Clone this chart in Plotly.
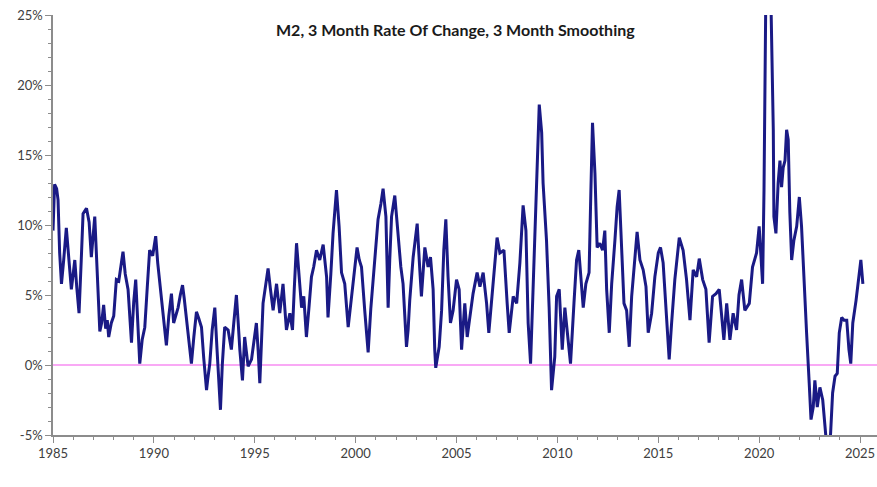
import plotly.graph_objects as go

# Decimal year of each reading
years = [
    1985.00, 1985.08, 1985.18, 1985.25, 1985.33, 1985.42, 1985.53, 1985.66, 1985.75, 1985.91,
    1986.00, 1986.08, 1986.18, 1986.29, 1986.40, 1986.49, 1986.66, 1986.79, 1986.90, 1986.99,
    1987.07, 1987.18, 1987.27, 1987.32, 1987.41, 1987.51, 1987.61, 1987.69, 1987.76, 1987.89,
    1988.01, 1988.14, 1988.26, 1988.36, 1988.47, 1988.58, 1988.72, 1988.89, 1989.00, 1989.10,
    1989.20, 1989.30, 1989.42, 1989.55, 1989.67, 1989.79, 1989.94, 1990.09, 1990.19, 1990.31,
    1990.44, 1990.62, 1990.74, 1990.87, 1990.98, 1991.08, 1991.20, 1991.31, 1991.42, 1991.50,
    1991.61, 1991.73, 1991.86, 1991.98, 1992.11, 1992.23, 1992.36, 1992.47, 1992.61, 1992.67,
    1992.77, 1992.89, 1993.02, 1993.13, 1993.22, 1993.30, 1993.39, 1993.51, 1993.68, 1993.84,
    1993.96, 1994.09, 1994.18, 1994.26, 1994.39, 1994.50, 1994.58, 1994.67, 1994.84, 1994.95,
    1995.08, 1995.17, 1995.25, 1995.41, 1995.52, 1995.66, 1995.77, 1995.91, 1996.08, 1996.24,
    1996.40, 1996.57, 1996.74, 1996.87, 1996.96, 1997.07, 1997.19, 1997.32, 1997.43, 1997.56,
    1997.68, 1997.81, 1997.92, 1998.06, 1998.22, 1998.39, 1998.56, 1998.63, 1998.77, 1998.88,
    1999.05, 1999.18, 1999.30, 1999.46, 1999.63, 1999.84, 1999.96, 2000.07, 2000.18, 2000.29,
    2000.45, 2000.62, 2000.75, 2000.87, 2000.97, 2001.11, 2001.25, 2001.36, 2001.50, 2001.61,
    2001.69, 2001.78, 2001.94, 2002.10, 2002.24, 2002.35, 2002.52, 2002.60, 2002.68, 2002.85,
    2003.05, 2003.18, 2003.26, 2003.43, 2003.59, 2003.71, 2003.84, 2003.92, 2003.97, 2004.14,
    2004.26, 2004.37, 2004.47, 2004.58, 2004.70, 2004.83, 2005.00, 2005.13, 2005.25, 2005.41,
    2005.53, 2005.66, 2005.82, 2006.02, 2006.16, 2006.32, 2006.49, 2006.60, 2006.78, 2007.01,
    2007.15, 2007.35, 2007.51, 2007.61, 2007.81, 2007.98, 2008.14, 2008.30, 2008.44, 2008.55,
    2008.67, 2008.80, 2008.94, 2009.10, 2009.22, 2009.29, 2009.46, 2009.59, 2009.71, 2009.87,
    2009.96, 2010.09, 2010.24, 2010.37, 2010.48, 2010.65, 2010.82, 2010.95, 2011.06, 2011.20,
    2011.28, 2011.41, 2011.57, 2011.66, 2011.74, 2011.86, 2011.97, 2012.10, 2012.24, 2012.35,
    2012.44, 2012.57, 2012.69, 2012.85, 2012.96, 2013.06, 2013.18, 2013.30, 2013.43, 2013.56,
    2013.68, 2013.84, 2013.95, 2014.09, 2014.25, 2014.39, 2014.50, 2014.67, 2014.83, 2015.00,
    2015.11, 2015.24, 2015.41, 2015.54, 2015.66, 2015.82, 2016.04, 2016.23, 2016.40, 2016.57,
    2016.73, 2016.90, 2017.03, 2017.20, 2017.36, 2017.52, 2017.69, 2017.86, 2018.02, 2018.14,
    2018.25, 2018.39, 2018.55, 2018.71, 2018.88, 2019.00, 2019.13, 2019.29, 2019.51, 2019.67,
    2019.87, 2020.00, 2020.09, 2020.17, 2020.24, 2020.29, 2020.36, 2020.43, 2020.51, 2020.57,
    2020.62, 2020.70, 2020.73, 2020.83, 2020.94, 2021.03, 2021.11, 2021.19, 2021.28, 2021.36,
    2021.44, 2021.52, 2021.61, 2021.72, 2021.86, 2021.99, 2022.10, 2022.22, 2022.35, 2022.48,
    2022.57, 2022.68, 2022.76, 2022.88, 2023.01, 2023.15, 2023.26, 2023.36, 2023.46, 2023.54,
    2023.64, 2023.76, 2023.87, 2023.97, 2024.09, 2024.21, 2024.34, 2024.45, 2024.54, 2024.64,
    2024.80, 2024.92, 2025.04, 2025.14,
]

# M2 3-month rate of change (%, annualised, 3-month smoothed)
m2_roc = [
    9.6, 12.9, 12.6, 11.8, 8.0, 5.8, 7.5, 9.8, 8.2, 5.4,
    6.5, 7.5, 5.5, 3.7, 7.5, 10.8, 11.2, 10.2, 7.7, 9.5,
    10.6, 7.0, 4.0, 2.4, 3.0, 4.3, 2.6, 3.2, 2.0, 3.0,
    3.5, 6.1, 6.0, 7.0, 8.1, 6.5, 5.4, 1.6, 4.5, 6.1,
    3.0, 0.1, 1.8, 2.7, 5.5, 8.2, 7.8, 9.2, 7.3, 5.5,
    3.9, 1.4, 3.5, 5.1, 3.0, 3.6, 4.1, 5.0, 5.7, 4.8,
    3.4, 1.5, 0.1, 2.0, 3.8, 3.3, 2.7, 0.5, -1.8, -1.0,
    0.1, 2.5, 4.1, 1.1, -1.5, -3.2, 0.0, 2.7, 2.5, 1.1,
    3.0, 5.0, 3.0, 1.1, -1.1, 2.0, 1.0, -0.1, 0.4, 1.5,
    3.0, 1.0, -1.3, 4.4, 5.5, 6.9, 5.5, 3.9, 5.8, 3.7,
    5.8, 2.5, 3.7, 2.5, 5.5, 8.7, 6.5, 4.1, 4.9, 2.0,
    4.0, 6.3, 7.0, 8.2, 7.5, 8.6, 6.3, 3.4, 6.5, 9.4,
    12.5, 9.9, 6.6, 5.8, 2.7, 5.4, 7.0, 8.4, 7.5, 7.0,
    3.9, 0.9, 4.0, 6.3, 8.0, 10.4, 11.5, 12.6, 10.6, 4.1,
    7.5, 10.6, 12.1, 9.4, 7.0, 5.8, 1.3, 2.5, 4.6, 7.7,
    10.1, 6.8, 4.9, 8.4, 7.0, 7.7, 5.4, 1.1, -0.2, 1.3,
    3.9, 8.2, 10.4, 6.3, 3.0, 3.9, 6.1, 5.4, 1.1, 4.4,
    2.0, 3.4, 5.1, 6.6, 5.6, 6.6, 4.4, 2.3, 5.4, 9.1,
    8.0, 8.2, 4.4, 2.3, 4.9, 4.4, 7.3, 11.4, 9.6, 3.0,
    0.1, 5.4, 12.5, 18.6, 16.6, 13.0, 8.9, 4.1, -1.8, 0.6,
    4.9, 5.4, 1.1, 4.1, 2.5, 0.1, 4.4, 7.5, 8.2, 5.4,
    4.1, 5.8, 6.6, 12.5, 17.3, 13.7, 8.4, 8.7, 8.2, 9.6,
    5.4, 2.3, 5.8, 8.9, 11.3, 12.5, 8.9, 4.4, 3.9, 1.3,
    4.9, 8.0, 9.5, 7.5, 6.8, 5.6, 2.3, 3.7, 6.3, 8.0,
    8.4, 7.3, 3.7, 0.4, 3.0, 6.1, 9.1, 8.2, 6.1, 3.2,
    6.8, 6.3, 7.6, 6.1, 5.4, 1.6, 4.9, 5.1, 5.4, 3.2,
    1.8, 4.4, 1.8, 3.7, 2.5, 5.0, 6.1, 3.9, 4.4, 7.0,
    8.0, 9.9, 8.0, 5.8, 12.5, 21.3, 32.0, 42.0, 36.0, 27.0,
    22.5, 16.8, 10.6, 9.4, 13.0, 14.6, 12.7, 14.1, 14.6, 16.8,
    16.1, 10.9, 7.5, 8.9, 9.9, 12.0, 9.9, 5.8, 2.3, -1.3,
    -3.9, -3.0, -1.1, -3.0, -1.6, -2.5, -4.9, -6.0, -5.8, -4.9,
    -2.0, -0.8, -0.6, 2.3, 3.4, 3.2, 3.2, 1.1, 0.1, 3.0,
    4.6, 6.3, 7.5, 5.8,
]

title_text = "M2, 3 Month Rate Of Change, 3 Month Smoothing"
x_tick_vals = [1985, 1990, 1995, 2000, 2005, 2010, 2015, 2020, 2025]
y_tick_vals = [-5, 0, 5, 10, 15, 20, 25]
x_end = 2025.84

fig = go.Figure()

# zero reference line
fig.add_trace(go.Scatter(
    x=[1985, x_end], y=[0, 0], mode="lines",
    line=dict(color="#F78CF2", width=1.6), hoverinfo="skip", showlegend=False,
))

fig.add_trace(go.Scatter(
    x=years, y=m2_roc, mode="lines",
    line=dict(color="#1A1A85", width=3), showlegend=False,
))

axis_font = dict(family="Lato, 'Open Sans', sans-serif", size=13, color="#404040")

fig.update_layout(
    width=877, height=487, autosize=False,
    margin=dict(l=53, r=0, t=15, b=52),
    paper_bgcolor="white", plot_bgcolor="white",
    xaxis=dict(
        range=[1985, x_end], tickvals=x_tick_vals,
        ticktext=[str(v) for v in x_tick_vals],
        showgrid=False, zeroline=False,
        showline=True, linecolor="#8C8C8C", linewidth=1.5,
        ticks="outside", ticklen=6, tickcolor="#8C8C8C", tickwidth=1.3,
        minor=dict(dtick=1, tick0=1985, ticks="outside", ticklen=3,
                   tickcolor="#8C8C8C", tickwidth=1),
        tickfont=axis_font, ticklabeloverflow="allow",
    ),
    yaxis=dict(
        range=[-5, 25], tickvals=y_tick_vals,
        ticktext=[f"{v}%" for v in y_tick_vals],
        showgrid=False, zeroline=False,
        showline=True, linecolor="#8C8C8C", linewidth=1.5,
        ticks="outside", ticklen=6, tickcolor="#8C8C8C", tickwidth=1.3,
        minor=dict(dtick=1, tick0=0, ticks="outside", ticklen=3,
                   tickcolor="#8C8C8C", tickwidth=1),
        tickfont=axis_font, ticklabeloverflow="allow",
    ),
    annotations=[dict(
        text=f"<b>{title_text}</b>", x=0.488, y=0.965, xref="paper", yref="paper",
        xanchor="center", yanchor="middle", showarrow=False,
        font=dict(family="Lato, 'Open Sans', sans-serif", size=16, color="#1A1A1A"),
    )],
)

fig.write_html(
    "out.html",
    config={"displayModeBar": False},
    post_script="document.body.style.margin='0';document.body.style.overflow='hidden';",
)
